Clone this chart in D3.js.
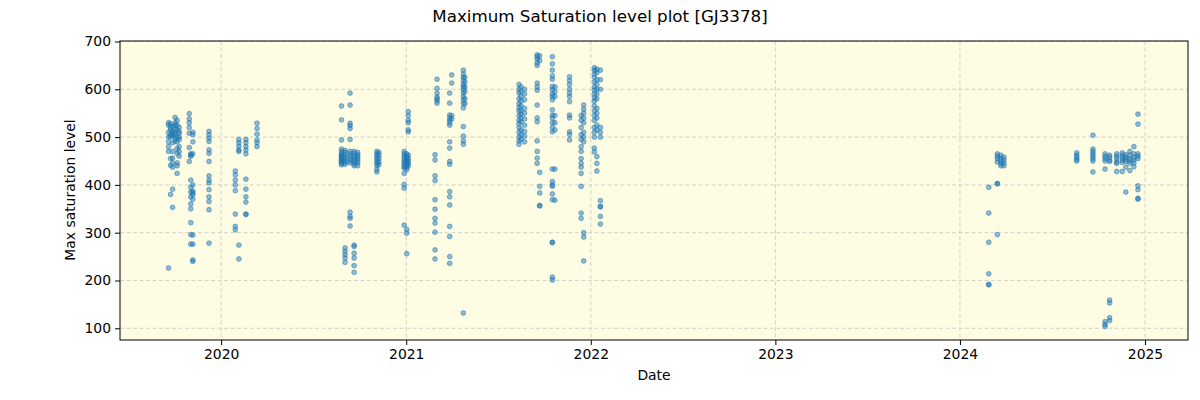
<!DOCTYPE html>
<html><head><meta charset="utf-8">
<script src="https://cdn.jsdelivr.net/npm/d3@7"></script>
<style>body{margin:0;background:#fff}svg{display:block}text{font-family:"DejaVu Sans",sans-serif;fill:#000}</style>
</head><body><svg id="c" width="1200" height="400"></svg>
<script>
const chartTitle = "Maximum Saturation level plot [GJ3378]";
const xLabel = "Date";
const yLabel = "Max saturation level";
const yTicks = [100, 200, 300, 400, 500, 600, 700];
const xTickYears = [2020, 2021, 2022, 2023, 2024, 2025];

const nightDates = [
 "2019-09-19","2019-09-23","2019-09-27","2019-10-02","2019-10-06","2019-10-10","2019-10-30","2019-11-02","2019-11-06","2019-12-08",
 "2020-01-29","2020-02-05","2020-02-19","2020-03-12",
 "2020-08-26","2020-09-02","2020-09-12","2020-09-20","2020-09-27","2020-11-04","2020-11-08",
 "2020-12-28","2021-01-02","2021-01-05",
 "2021-02-27","2021-03-03","2021-03-28","2021-04-01","2021-04-24","2021-04-27",
 "2021-08-12","2021-08-16","2021-08-23","2021-09-17","2021-09-22","2021-10-17","2021-10-22","2021-11-20","2021-12-13","2021-12-18",
 "2022-01-08","2022-01-13","2022-01-20",
 "2024-02-27","2024-03-15","2024-03-22","2024-03-28",
 "2024-08-19","2024-09-20","2024-10-14","2024-10-23","2024-11-06","2024-11-17","2024-11-24","2024-12-02","2024-12-10","2024-12-18"
];
const nightValues = [
 [530,525,510,500,490,480,470,226],
 [528,520,515,505,500,455,441,380],
 [522,512,508,503,488,470,456,446,437,391,353],
 [541,530,525,518,510,505,498,492],
 [535,525,515,500,490,476,466,446,440,424],
 [520,512,508,500,495,480,470,460],
 [549,538,530,520,508,478,449],
 [465,462,460,410,395,385,375,360,350,321,296,276],
 [510,505,490,465,400,387,383,380,370,295,276,243,240],
 [512,505,498,491,473,466,449,419,410,404,390,375,365,348,278],
 [429,421,410,400,388,339,313,306],
 [495,488,481,473,470,274,245],
 [495,488,480,473,465,412,391,375,364,339,338],
 [529,518,506,494,488,480],
 [565,536,494,475,470,465,462,460,458,455,452,450,448,445,442],
 [472,468,463,458,455,450,447,443,268,261,254,247,238],
 [592,567,529,524,518,495,470,465,460,455,450,446,343,334,330,314],
 [470,466,460,456,452,448,444,440,274,271,257,247,231,217],
 [468,463,459,455,450,446,440],
 [470,465,460,455,450,445,440,432,427],
 [468,462,455,448,442],
 [470,465,460,455,450,446,442,438,435,424,401,393,316],
 [465,460,456,452,448,444,440,436,432,307,299,256],
 [553,545,535,530,515,511,462,455,450,445,440],
 [463,452,419,409,369,349,330,320,301,264,245],
 [621,602,592,584,580,576,571],
 [592,571,546,540,535,530,525,490,477,449,443,386,375,358,313,292,250,236],
 [630,613,545,538],
 [640,632,625,618,610,605,600,592,585,578,570,561,522,502,492,485,132],
 [625,615,605,595,580,570],
 [610,600,592,580,570,562,555,545,535,528,520,510,500,492,485],
 [605,595,585,575,565,555,548,540,532,515,505,495],
 [600,590,578,560,550,538,525,512,502,490],
 [672,668,663,655,650,613,605,598,567,540,532,492,470,456,445],
 [670,660,426,397,383,356,357],
 [668,653,640,628,621,606,599,590,585,578,557,546,540,530,520,511,433,407,400,397,381,369,280,279,201,207],
 [605,595,585,545,530,515,433,368],
 [626,618,610,600,592,585,574,546,540,511,505,494],
 [545,535,520,505,495,480,470,455,445,437,424,397,341,330],
 [567,558,550,540,530,510,500,490,300,291,241],
 [645,640,632,625,615,605,598,590,582,575,565,555,545,535,520,510,500,477,469],
 [642,635,620,610,600,590,580,560,550,540,525,515,459,445,429],
 [640,620,600,520,510,500,367,355,354,334,318],
 [395,341,280,214,192,191],
 [465,460,455,448,403,402,296],
 [462,456,450,445,440],
 [458,452,446,440],
 [467,462,458,453,450],
 [504,475,470,465,460,455,450,427],
 [465,460,455,450,433,114,108,104],
 [462,458,452,449,159,153,122,116],
 [465,460,455,448,445,428],
 [467,462,457,452,447,428],
 [463,458,453,449,437,385],
 [470,462,455,450,445,430],
 [480,465,458,452,446,438],
 [548,527,465,460,455,398,390,372,370]
];

const parse = d3.utcParse("%Y-%m-%d");
const points = [];
nightDates.forEach((d, i) => nightValues[i].forEach(v => points.push({date: parse(d), value: v})));

const svg = d3.select("#c");
const m = {left: 120, right: 1188, top: 41, bottom: 340};

const x = d3.scaleUtc()
  .domain([parse("2019-06-15"), parse("2025-03-27")])
  .range([m.left, m.right]);
const y = d3.scaleLinear().domain([75.5, 701]).range([m.bottom, m.top]);

svg.append("rect").attr("x", m.left).attr("y", m.top)
  .attr("width", m.right - m.left).attr("height", m.bottom - m.top)
  .attr("fill", "#fefce3");

const xTickDates = xTickYears.map(yr => new Date(Date.UTC(yr, 0, 1)));

const grid = svg.append("g");
grid.selectAll("line.gx").data(xTickDates).join("line")
  .attr("x1", d => x(d)).attr("x2", d => x(d)).attr("y1", m.top).attr("y2", m.bottom)
  .attr("stroke", "#c8c8c8").attr("stroke-width", 0.8).attr("stroke-dasharray", "4,2.5");
grid.selectAll("line.gy").data(yTicks).join("line")
  .attr("y1", d => y(d)).attr("y2", d => y(d)).attr("x1", m.left).attr("x2", m.right)
  .attr("stroke", "#c8c8c8").attr("stroke-width", 0.8).attr("stroke-dasharray", "4,2.5");

svg.append("g").selectAll("circle").data(points).join("circle")
  .attr("cx", d => x(d.date)).attr("cy", d => y(d.value)).attr("r", 2.4)
  .attr("fill", "#1f77b4").attr("fill-opacity", 0.5)
  .attr("stroke", "#1f77b4").attr("stroke-opacity", 0.5).attr("stroke-width", 1);

svg.append("rect").attr("x", m.left).attr("y", m.top)
  .attr("width", m.right - m.left).attr("height", m.bottom - m.top)
  .attr("fill", "none").attr("stroke", "#000").attr("stroke-width", 1);

const xAxis = svg.append("g").attr("transform", `translate(0,${m.bottom})`)
  .call(d3.axisBottom(x).tickValues(xTickDates).tickFormat(d3.utcFormat("%Y")).tickSize(5).tickPadding(4));
const yAxis = svg.append("g").attr("transform", `translate(${m.left},0)`)
  .call(d3.axisLeft(y).tickValues(yTicks).tickSize(5).tickPadding(4));
[xAxis, yAxis].forEach(a => {
  a.select(".domain").remove();
  a.selectAll("text").attr("font-size", 13.9).attr("font-family", "DejaVu Sans").attr("fill", "#000");
  a.selectAll("line").attr("stroke", "#000").attr("stroke-width", 1);
});

svg.append("text").attr("x", 600).attr("y", 22).attr("text-anchor", "middle")
  .attr("font-size", 16.7).text(chartTitle);
svg.append("text").attr("x", 654).attr("y", 380).attr("text-anchor", "middle")
  .attr("font-size", 13.9).text(xLabel);
svg.append("text").attr("transform", "translate(75,190) rotate(-90)").attr("text-anchor", "middle")
  .attr("font-size", 13.9).text(yLabel);
</script></body></html>
